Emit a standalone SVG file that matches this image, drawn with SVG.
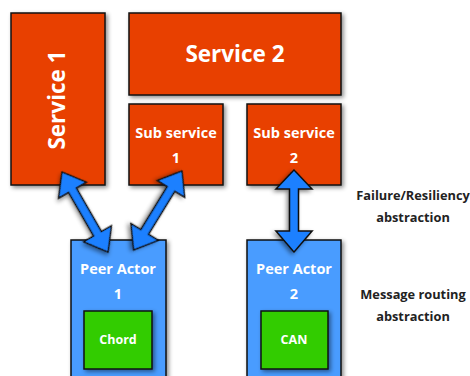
<svg xmlns="http://www.w3.org/2000/svg" width="470" height="376" viewBox="0 0 470 376">
<defs>
<filter id="sh" x="-20%" y="-20%" width="150%" height="150%">
<feDropShadow dx="2" dy="2" stdDeviation="2" flood-color="#000" flood-opacity="0.45"/>
</filter>
<style>
.svc{fill:#e84100;stroke:#111;stroke-width:1.5;filter:url(#sh)}
.peer{fill:#4a9cff;stroke:#111;stroke-width:1.5;filter:url(#sh)}
.algo{fill:#33cc00;stroke:#111;stroke-width:1.5;filter:url(#sh)}
.arr{fill:#1a80ff;stroke:#111;stroke-width:1.5;stroke-linejoin:miter;filter:url(#sh)}
text{font-family:"Open Sans","DejaVu Sans",sans-serif;font-weight:bold;text-anchor:middle}
.w{fill:#fff}
.big{font-size:22.5px}
.mid{font-size:14.5px}
.sm{font-size:12.5px}
.lab{fill:#222;font-size:12.8px}
</style>
</defs>
<rect width="470" height="376" fill="#fff"/>
<g id="service1">
<rect class="svc" x="11" y="13" width="94" height="172"/>
<text class="w big" transform="translate(65,100) rotate(-90)">Service 1</text>
</g>
<g id="service2">
<rect class="svc" x="129" y="13" width="212" height="82"/>
<text class="w big" x="235" y="62">Service 2</text>
</g>
<g id="subservice1">
<rect class="svc" x="129" y="104" width="94" height="81"/>
<text class="w mid" x="176" y="138">Sub service</text>
<text class="w mid" x="176" y="163">1</text>
</g>
<g id="subservice2">
<rect class="svc" x="247" y="104" width="94" height="81"/>
<text class="w mid" x="294" y="138">Sub service</text>
<text class="w mid" x="294" y="163">2</text>
</g>
<g id="peer1">
<rect class="peer" x="71" y="240" width="95" height="150"/>
<text class="w mid" x="118" y="274">Peer Actor</text>
<text class="w mid" x="118" y="299">1</text>
<rect class="algo" x="84" y="311" width="68" height="58"/>
<text class="w sm" x="118" y="344">Chord</text>
</g>
<g id="peer2">
<rect class="peer" x="247" y="240" width="94" height="150"/>
<text class="w mid" x="294" y="274">Peer Actor</text>
<text class="w mid" x="294" y="299">2</text>
<rect class="algo" x="261" y="311" width="67" height="58"/>
<text class="w sm" x="294" y="344">CAN</text>
</g>
<g id="label-failure">
<text class="lab" x="413" y="200">Failure/Resiliency</text>
<text class="lab" x="413" y="222">abstraction</text>
</g>
<g id="label-routing">
<text class="lab" x="413" y="299">Message routing</text>
<text class="lab" x="413" y="321">abstraction</text>
</g>
<g id="connectors">
<polygon class="arr" transform="translate(62,172) rotate(60.1)" points="0,0 21,-16 21,-4.5 71.3,-4.5 71.3,-16 92.3,0 71.3,16 71.3,4.5 21,4.5 21,16"/>
<polygon class="arr" transform="translate(182,171) rotate(121.5)" points="0,0 21,-16 21,-4.5 71.5,-4.5 71.5,-16 92.5,0 71.5,16 71.5,4.5 21,4.5 21,16"/>
<polygon class="arr" transform="translate(294,170) rotate(90)" points="0,0 19,-18 19,-4.5 61,-4.5 61,-18 82,0 61,18 61,4.5 19,4.5 19,18"/>
</g>
</svg>
